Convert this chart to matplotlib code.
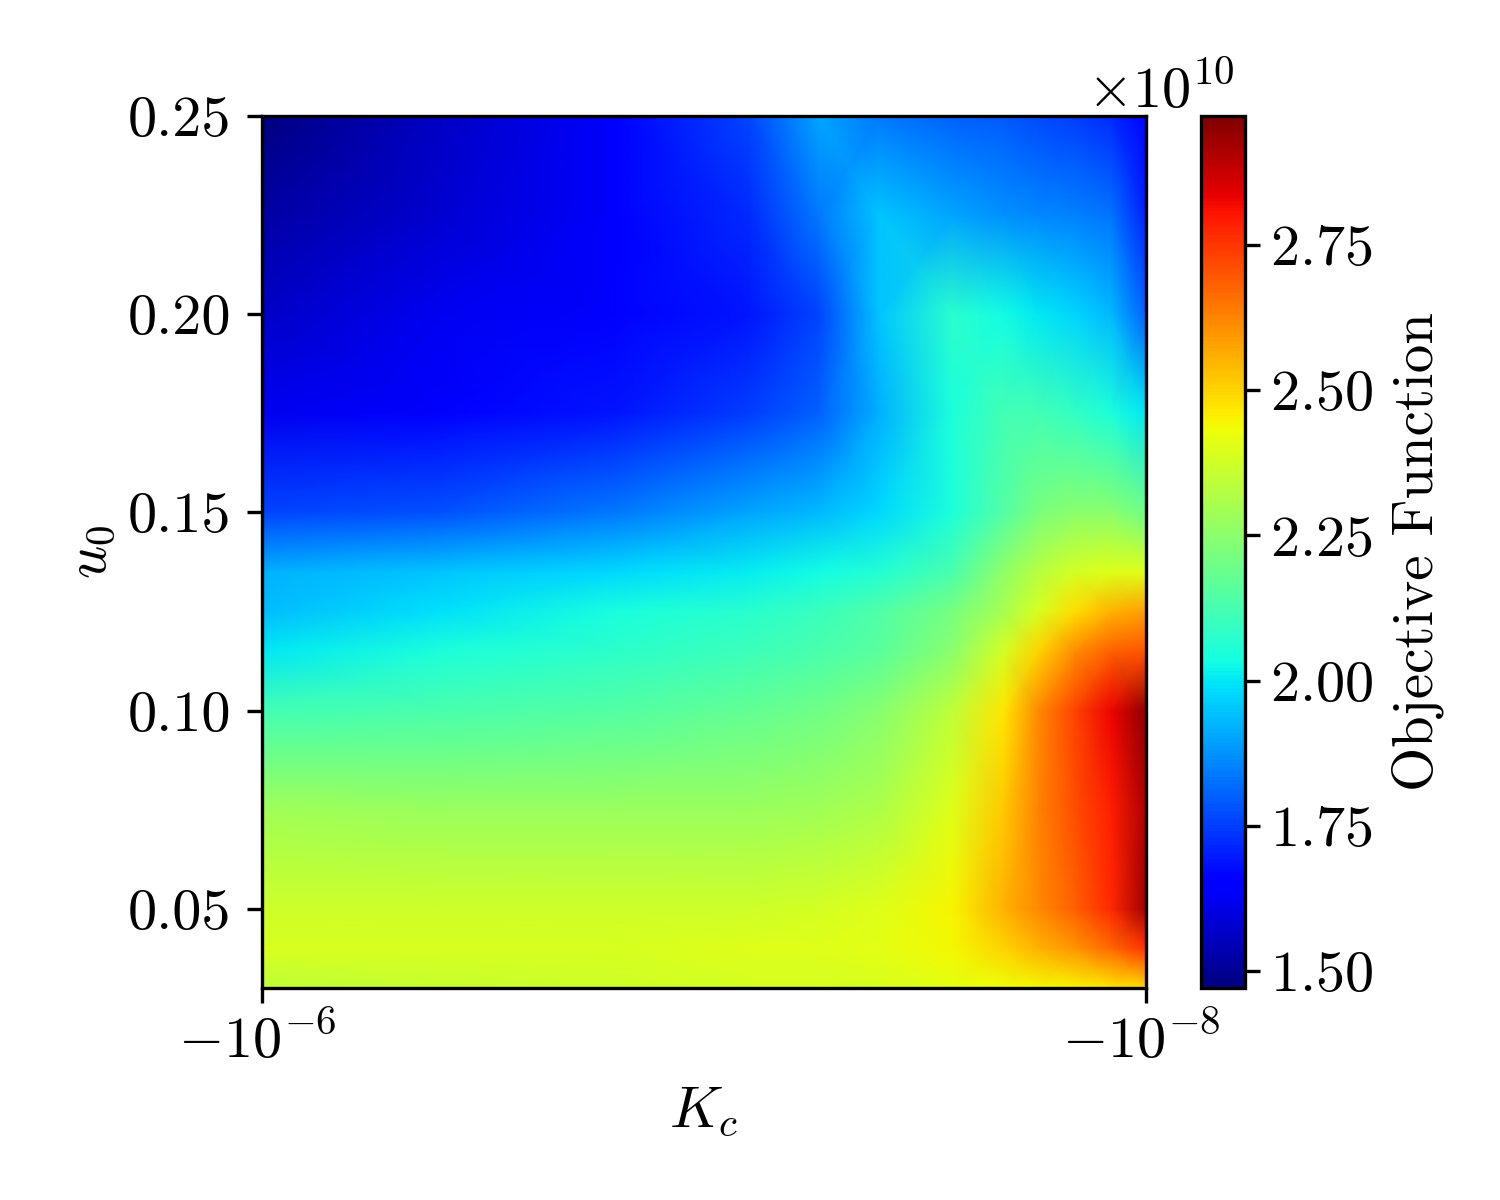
import numpy as np
import matplotlib
matplotlib.use("Agg")
import matplotlib.pyplot as plt
from matplotlib.transforms import ScaledTranslation

plt.rcParams["font.family"] = ["cmr10", "DejaVu Sans"]
plt.rcParams["mathtext.fontset"] = "cm"
plt.rcParams["axes.formatter.use_mathtext"] = True
plt.rcParams["axes.unicode_minus"] = False
plt.rcParams["font.size"] = 14

# Kc values along the log axis
kc = [-1e-6, -3.98e-7, -1.58e-7, -7.94e-8, -5.5e-8, -4e-8, -2.75e-8, -2.1e-8, -1.75e-8, -1.45e-8, -1.2e-8, -1e-8]
u0 = [0.03, 0.04, 0.05, 0.075, 0.10, 0.115, 0.125, 0.135, 0.15, 0.175, 0.20, 0.225, 0.25]

# objective function in units of 1e10, bottom row first
obj = np.array([
    [2.34, 2.36, 2.37, 2.38, 2.38, 2.39, 2.41, 2.43, 2.44, 2.45, 2.47, 2.49],
    [2.39, 2.39, 2.39, 2.40, 2.40, 2.41, 2.44, 2.50, 2.55, 2.60, 2.67, 2.75],
    [2.37, 2.37, 2.37, 2.37, 2.38, 2.40, 2.45, 2.55, 2.62, 2.68, 2.77, 2.93],
    [2.29, 2.28, 2.28, 2.28, 2.29, 2.31, 2.40, 2.52, 2.63, 2.71, 2.79, 2.91],
    [2.12, 2.13, 2.15, 2.18, 2.20, 2.24, 2.34, 2.47, 2.62, 2.73, 2.83, 2.95],
    [2.00, 2.05, 2.08, 2.11, 2.13, 2.16, 2.25, 2.38, 2.50, 2.61, 2.68, 2.70],
    [1.94, 1.99, 2.04, 2.07, 2.10, 2.14, 2.21, 2.30, 2.39, 2.48, 2.55, 2.58],
    [1.92, 1.95, 1.98, 2.01, 2.03, 2.06, 2.13, 2.26, 2.33, 2.38, 2.40, 2.40],
    [1.76, 1.78, 1.84, 1.90, 1.93, 1.98, 2.05, 2.15, 2.22, 2.25, 2.25, 2.20],
    [1.62, 1.65, 1.69, 1.75, 1.80, 1.92, 2.05, 2.12, 2.12, 2.09, 2.05, 2.00],
    [1.57, 1.62, 1.66, 1.69, 1.76, 1.95, 2.07, 2.03, 2.00, 1.97, 1.93, 1.80],
    [1.52, 1.58, 1.64, 1.72, 1.84, 1.95, 1.90, 1.87, 1.86, 1.85, 1.83, 1.71],
    [1.47, 1.56, 1.65, 1.76, 1.90, 1.84, 1.80, 1.79, 1.77, 1.75, 1.72, 1.65],
]) * 1e10

fig = plt.figure(figsize=(5, 4), dpi=300)
ax = fig.add_axes([262 / 1500, 1 - 988 / 1200, 884 / 1500, 872 / 1200])
cax = fig.add_axes([1201 / 1500, 1 - 988 / 1200, 44 / 1500, 872 / 1200])

ax.set_xscale("symlog", linthresh=1e-10)
mesh = ax.pcolormesh(kc, u0, obj, shading="gouraud", cmap="jet", vmin=1.471e10, vmax=2.972e10, rasterized=True)
ax.set_xlim(-1e-6, -1e-8)
ax.set_ylim(0.03, 0.25)
ax.set_xticks([-1e-6, -1e-8])
ax.set_xticklabels([r"$-10^{-6}$", r"$-10^{-8}$"])
ax.xaxis.set_minor_locator(matplotlib.ticker.NullLocator())
ax.set_yticks([0.05, 0.10, 0.15, 0.20, 0.25])
ax.set_yticklabels(["0.05", "0.10", "0.15", "0.20", "0.25"])
ax.tick_params(axis="x", pad=2.3)
ax.tick_params(axis="y", pad=3.9)
for lbl in ax.get_xticklabels():
    lbl.set_transform(lbl.get_transform() + ScaledTranslation(-5 / 300, 0, fig.dpi_scale_trans))
ax.set_xlabel(r"$K_c$", fontsize=14, labelpad=4.2)
ax.set_ylabel(r"$u_0$", fontsize=14, labelpad=2.4)

cb = fig.colorbar(mesh, cax=cax)
cb.set_ticks([1.5e10, 1.75e10, 2e10, 2.25e10, 2.5e10, 2.75e10])
cb.set_label("Objective Function", fontsize=13.65, labelpad=4.25)
cax.tick_params(axis="y", pad=2.5)
cax.yaxis.OFFSETTEXTPAD = 1.8
cax.yaxis.get_offset_text().set_x(0.77)

fig.savefig("out.png", dpi=300)
